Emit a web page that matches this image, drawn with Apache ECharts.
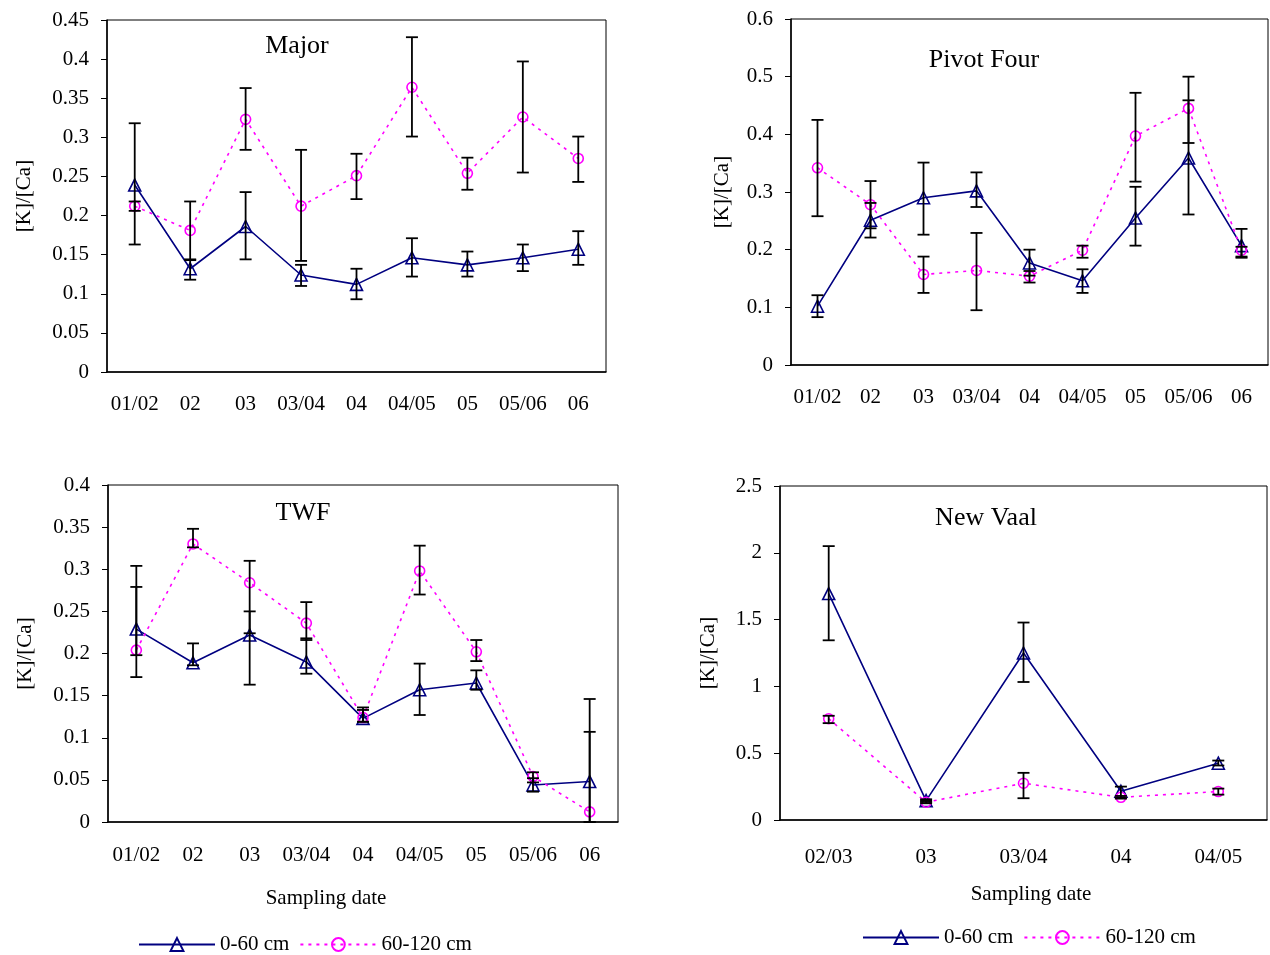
<!DOCTYPE html>
<html>
<head>
<meta charset="utf-8">
<script src="https://cdn.jsdelivr.net/npm/echarts@6/dist/echarts.min.js"></script>
<style>
  body { margin: 0; background: #fff; }
  #main { width: 1270px; height: 955px; }
</style>
</head>
<body>
<div id="main"></div>
<script>
// categories
var longDates = ['01/02', '02', '03', '03/04', '04', '04/05', '05', '05/06', '06'];
var vaalDates = ['02/03', '03', '03/04', '04', '04/05'];

// Major
var majorTop = [0.239, 0.132, 0.186, 0.124, 0.112, 0.146, 0.137, 0.146, 0.157];
var majorTopLow = [0.163, 0.118, 0.144, 0.110, 0.093, 0.122, 0.122, 0.129, 0.137];
var majorTopHigh = [0.318, 0.143, 0.230, 0.137, 0.132, 0.171, 0.154, 0.163, 0.180];
var majorSub = [0.212, 0.181, 0.323, 0.212, 0.251, 0.364, 0.254, 0.326, 0.273];
var majorSubLow = [0.206, 0.144, 0.284, 0.142, 0.221, 0.301, 0.233, 0.255, 0.243];
var majorSubHigh = [0.218, 0.218, 0.363, 0.284, 0.279, 0.428, 0.274, 0.397, 0.301];

// Pivot Four
var pivotTop = [0.102, 0.251, 0.290, 0.302, 0.177, 0.146, 0.255, 0.359, 0.207];
var pivotTopLow = [0.083, 0.221, 0.226, 0.274, 0.155, 0.125, 0.207, 0.261, 0.186];
var pivotTopHigh = [0.121, 0.281, 0.351, 0.334, 0.200, 0.166, 0.309, 0.459, 0.236];
var pivotSub = [0.342, 0.278, 0.157, 0.164, 0.154, 0.199, 0.397, 0.445, 0.199];
var pivotSubLow = [0.258, 0.237, 0.125, 0.095, 0.143, 0.186, 0.318, 0.385, 0.188];
var pivotSubHigh = [0.425, 0.319, 0.188, 0.229, 0.163, 0.207, 0.472, 0.500, 0.205];

// TWF
var twfTop = [0.229, 0.189, 0.222, 0.190, 0.123, 0.157, 0.165, 0.044, 0.048];
var twfTopLow = [0.172, 0.186, 0.163, 0.176, 0.119, 0.127, 0.157, 0.036, 0];
var twfTopHigh = [0.304, 0.212, 0.250, 0.218, 0.136, 0.188, 0.180, 0.052, 0.107];
var twfSub = [0.204, 0.330, 0.284, 0.236, 0.124, 0.298, 0.202, 0.054, 0.012];
var twfSubLow = [0.198, 0.326, 0.224, 0.216, 0.119, 0.270, 0.191, 0.047, 0];
var twfSubHigh = [0.279, 0.348, 0.310, 0.261, 0.133, 0.328, 0.216, 0.059, 0.146];

// New Vaal
var vaalTop = [1.695, 0.145, 1.25, 0.215, 0.425];
var vaalTopLow = [1.345, 0.135, 1.033, 0.165, 0.408];
var vaalTopHigh = [2.05, 0.155, 1.478, 0.25, 0.445];
var vaalSub = [0.758, 0.133, 0.275, 0.17, 0.213];
var vaalSubLow = [0.725, 0.125, 0.163, 0.16, 0.19];
var vaalSubHigh = [0.78, 0.145, 0.353, 0.18, 0.235];

var FONT = "'Liberation Serif', 'Times New Roman', serif";
var NAVY = '#000080';
var PINK = '#ff00ff';

function yAx(grid, max, step, gap) {
  return {
    type: 'value', gridIndex: grid, min: 0, max: max, interval: step,
    name: '[K]/[Ca]', nameLocation: 'middle', nameRotate: 90, nameGap: gap,
    nameTextStyle: { color: '#000', fontSize: 21, fontFamily: FONT },
    axisLine: { show: true, lineStyle: { color: '#000', width: 1.5 } },
    axisTick: { show: true, length: 6, lineStyle: { color: '#000' } },
    axisLabel: { color: '#000', fontSize: 21, fontFamily: FONT, margin: 18 },
    splitLine: { show: false }
  };
}

function xAx(grid, cats, margin) {
  return {
    type: 'category', gridIndex: grid, data: cats, boundaryGap: true,
    axisLine: { lineStyle: { color: '#000', width: 1.5 } },
    axisTick: { interval: 0, length: 9, lineStyle: { color: '#000' } },
    axisLabel: { interval: 0, color: '#000', fontSize: 21, fontFamily: FONT, margin: margin }
  };
}

function topLine(idx, vals) {
  return {
    name: '0-60 cm', type: 'line', xAxisIndex: idx, yAxisIndex: idx, data: vals,
    symbol: 'triangle', symbolSize: 12,
    itemStyle: { color: 'transparent', borderColor: NAVY, borderWidth: 1.6 },
    lineStyle: { color: NAVY, width: 1.6 },
    z: 3
  };
}

function subLine(idx, vals) {
  return {
    name: '60-120 cm', type: 'line', xAxisIndex: idx, yAxisIndex: idx, data: vals,
    symbol: 'circle', symbolSize: 10,
    itemStyle: { color: 'transparent', borderColor: PINK, borderWidth: 1.6 },
    lineStyle: { color: PINK, width: 1.6, type: [3, 5] },
    z: 3
  };
}

// error bars drawn through the axis scales
function renderErr(params, api) {
  var lo = api.coord([api.value(0), api.value(1)]);
  var hi = api.coord([api.value(0), api.value(2)]);
  var w = 6;
  var st = { stroke: '#000', lineWidth: 1.8 };
  return {
    type: 'group',
    children: [
      { type: 'line', shape: { x1: lo[0], y1: lo[1], x2: hi[0], y2: hi[1] }, style: st },
      { type: 'line', shape: { x1: lo[0] - w, y1: lo[1], x2: lo[0] + w, y2: lo[1] }, style: st },
      { type: 'line', shape: { x1: hi[0] - w, y1: hi[1], x2: hi[0] + w, y2: hi[1] }, style: st }
    ]
  };
}

function errSeries(idx, low, high) {
  var d = low.map(function (v, i) { return [i, v, high[i]]; });
  return {
    type: 'custom', xAxisIndex: idx, yAxisIndex: idx, data: d,
    renderItem: renderErr, silent: true, z: 4
  };
}

var titleStyle = { color: '#000', fontSize: 26, fontWeight: 'normal', fontFamily: FONT };
var legendStyle = {
  itemWidth: 76, itemHeight: 16, itemGap: 10,
  textStyle: { color: '#000', fontSize: 21, fontFamily: FONT },
  data: ['0-60 cm', '60-120 cm']
};

var chart = echarts.init(document.getElementById('main'));
chart.setOption({
  animation: false,
  textStyle: { fontFamily: FONT },
  title: [
    { text: 'Major', left: 292, top: 28, textAlign: 'center', textStyle: titleStyle },
    { text: 'Pivot Four', left: 979, top: 42, textAlign: 'center', textStyle: titleStyle },
    { text: 'TWF', left: 298, top: 495, textAlign: 'center', textStyle: titleStyle },
    { text: 'New Vaal', left: 981, top: 500, textAlign: 'center', textStyle: titleStyle }
  ],
  legend: [
    Object.assign({ left: 133, top: 929 }, legendStyle),
    Object.assign({ left: 857, top: 922 }, legendStyle)
  ],
  grid: [
    { left: 107, top: 20, width: 499, height: 352, show: true, borderColor: '#000', borderWidth: 1 },
    { left: 791, top: 19, width: 477, height: 346, show: true, borderColor: '#000', borderWidth: 1 },
    { left: 108, top: 485, width: 510, height: 337, show: true, borderColor: '#000', borderWidth: 1 },
    { left: 780, top: 486, width: 487, height: 334, show: true, borderColor: '#000', borderWidth: 1 }
  ],
  xAxis: [
    xAx(0, longDates, 22),
    xAx(1, longDates, 22),
    xAx(2, longDates, 23),
    xAx(3, vaalDates, 27)
  ],
  yAxis: [
    yAx(0, 0.45, 0.05, 72),
    yAx(1, 0.6, 0.1, 58),
    yAx(2, 0.4, 0.05, 72),
    yAx(3, 2.5, 0.5, 61)
  ],
  graphic: [
    { type: 'text', x: 326, y: 898, style: { text: 'Sampling date', fill: '#000', font: '21px ' + FONT, textAlign: 'center', textVerticalAlign: 'middle' } },
    { type: 'text', x: 1031, y: 894, style: { text: 'Sampling date', fill: '#000', font: '21px ' + FONT, textAlign: 'center', textVerticalAlign: 'middle' } }
  ],
  series: [
    topLine(0, majorTop), subLine(0, majorSub),
    errSeries(0, majorTopLow, majorTopHigh), errSeries(0, majorSubLow, majorSubHigh),
    topLine(1, pivotTop), subLine(1, pivotSub),
    errSeries(1, pivotTopLow, pivotTopHigh), errSeries(1, pivotSubLow, pivotSubHigh),
    topLine(2, twfTop), subLine(2, twfSub),
    errSeries(2, twfTopLow, twfTopHigh), errSeries(2, twfSubLow, twfSubHigh),
    topLine(3, vaalTop), subLine(3, vaalSub),
    errSeries(3, vaalTopLow, vaalTopHigh), errSeries(3, vaalSubLow, vaalSubHigh)
  ]
});
</script>
</body>
</html>
